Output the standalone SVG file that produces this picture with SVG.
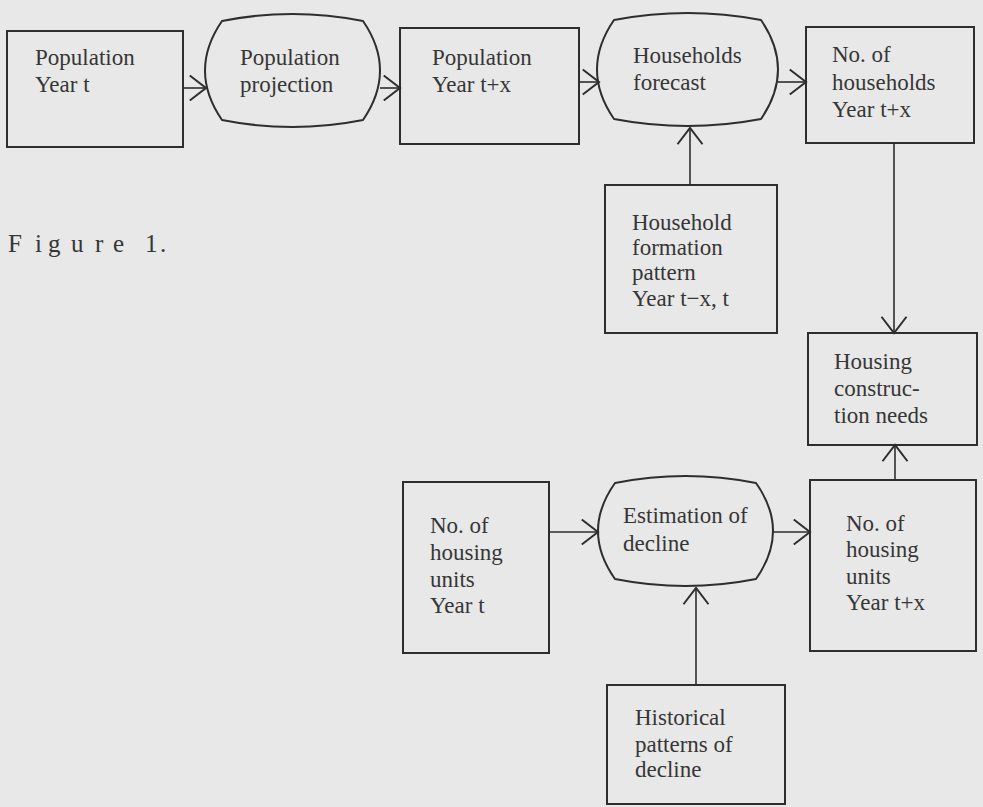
<svg xmlns="http://www.w3.org/2000/svg" width="983" height="807" viewBox="0 0 983 807">
<defs>
<style>
.bg{fill:#e8e8e8}
.box{fill:none;stroke:#2e2e2e;stroke-width:2}
.proc{fill:none;stroke:#2e2e2e;stroke-width:2;stroke-linejoin:round}
.lbl{font-family:"Liberation Serif","Times New Roman",serif;font-size:23px;fill:#363636}
.fig{font-family:"Liberation Serif","Times New Roman",serif;font-size:25px;fill:#363636}
.conn line{stroke:#2e2e2e;stroke-width:1.6;fill:none}
</style>
<marker id="arr" markerUnits="userSpaceOnUse" markerWidth="30" markerHeight="30" viewBox="-16 -12 18 24" refX="0" refY="0" orient="auto">
<path d="M-13,-10 L0,0 L-13,10" fill="none" stroke="#2e2e2e" stroke-width="1.6"/>
</marker>
</defs>
<rect class="bg" x="0" y="0" width="983" height="807"/>

<g id="pop_t">
<rect class="box" x="7" y="31" width="176" height="116"/>
<text class="lbl" x="35" y="65">Population</text>
<text class="lbl" x="35" y="92">Year t</text>
</g>

<g id="pop_proj">
<path class="proc" d="M222,21 Q292.5,7 363,21 Q397,70.5 363,120 Q292.5,134 222,120 Q188,70.5 222,21 Z"/>
<text class="lbl" x="240" y="65">Population</text>
<text class="lbl" x="240" y="92">projection</text>
</g>

<g id="pop_tx">
<rect class="box" x="400" y="28" width="179" height="116"/>
<text class="lbl" x="432" y="65">Population</text>
<text class="lbl" x="432" y="92">Year t+x</text>
</g>

<g id="hh_forecast">
<path class="proc" d="M614,20 Q687.5,6 761,20 Q795,69.5 761,119 Q687.5,133 614,119 Q580,69.5 614,20 Z"/>
<text class="lbl" x="633" y="63">Households</text>
<text class="lbl" x="633" y="90">forecast</text>
</g>

<g id="hh_tx">
<rect class="box" x="806" y="27" width="168" height="116"/>
<text class="lbl" x="832" y="62">No. of</text>
<text class="lbl" x="832" y="90">households</text>
<text class="lbl" x="832" y="117">Year t+x</text>
</g>

<g id="hh_pattern">
<rect class="box" x="605" y="185" width="172" height="148"/>
<text class="lbl" x="632" y="230">Household</text>
<text class="lbl" x="632" y="255">formation</text>
<text class="lbl" x="632" y="280">pattern</text>
<text class="lbl" x="632" y="306">Year t−x, t</text>
</g>

<g id="housing_needs">
<rect class="box" x="808" y="333" width="169" height="112"/>
<text class="lbl" x="834" y="369">Housing</text>
<text class="lbl" x="834" y="396">construc-</text>
<text class="lbl" x="834" y="423">tion needs</text>
</g>

<g id="units_t">
<rect class="box" x="403" y="482" width="146" height="171"/>
<text class="lbl" x="430" y="533">No. of</text>
<text class="lbl" x="430" y="560">housing</text>
<text class="lbl" x="430" y="587">units</text>
<text class="lbl" x="430" y="613">Year t</text>
</g>

<g id="decline_est">
<path class="proc" d="M615,483 Q685.5,469 756,483 Q790,531 756,579 Q685.5,593 615,579 Q581,531 615,483 Z"/>
<text class="lbl" x="623" y="523">Estimation of</text>
<text class="lbl" x="623" y="551">decline</text>
</g>

<g id="units_tx">
<rect class="box" x="810" y="480" width="166" height="171"/>
<text class="lbl" x="846" y="531">No. of</text>
<text class="lbl" x="846" y="557">housing</text>
<text class="lbl" x="846" y="584">units</text>
<text class="lbl" x="846" y="610">Year t+x</text>
</g>

<g id="hist_decline">
<rect class="box" x="607" y="685" width="178" height="119"/>
<text class="lbl" x="635" y="725">Historical</text>
<text class="lbl" x="635" y="752">patterns of</text>
<text class="lbl" x="635" y="777">decline</text>
</g>

<g id="caption">
<text class="fig" x="8 35 48 71 95 113 130 145 160" y="252">Figure 1.</text>
</g>

<g id="connectors" class="conn">
<line x1="183" y1="88" x2="206" y2="88" marker-end="url(#arr)"/>
<line x1="380" y1="88" x2="400" y2="88" marker-end="url(#arr)"/>
<line x1="579" y1="82" x2="599" y2="82" marker-end="url(#arr)"/>
<line x1="778" y1="82" x2="806" y2="82" marker-end="url(#arr)"/>
<line x1="690" y1="185" x2="690" y2="128" marker-end="url(#arr)"/>
<line x1="894" y1="143" x2="894" y2="333" marker-end="url(#arr)"/>
<line x1="895" y1="480" x2="895" y2="445" marker-end="url(#arr)"/>
<line x1="549" y1="532" x2="598" y2="532" marker-end="url(#arr)"/>
<line x1="773" y1="532" x2="810" y2="532" marker-end="url(#arr)"/>
<line x1="696" y1="685" x2="696" y2="588" marker-end="url(#arr)"/>
</g>
</svg>
